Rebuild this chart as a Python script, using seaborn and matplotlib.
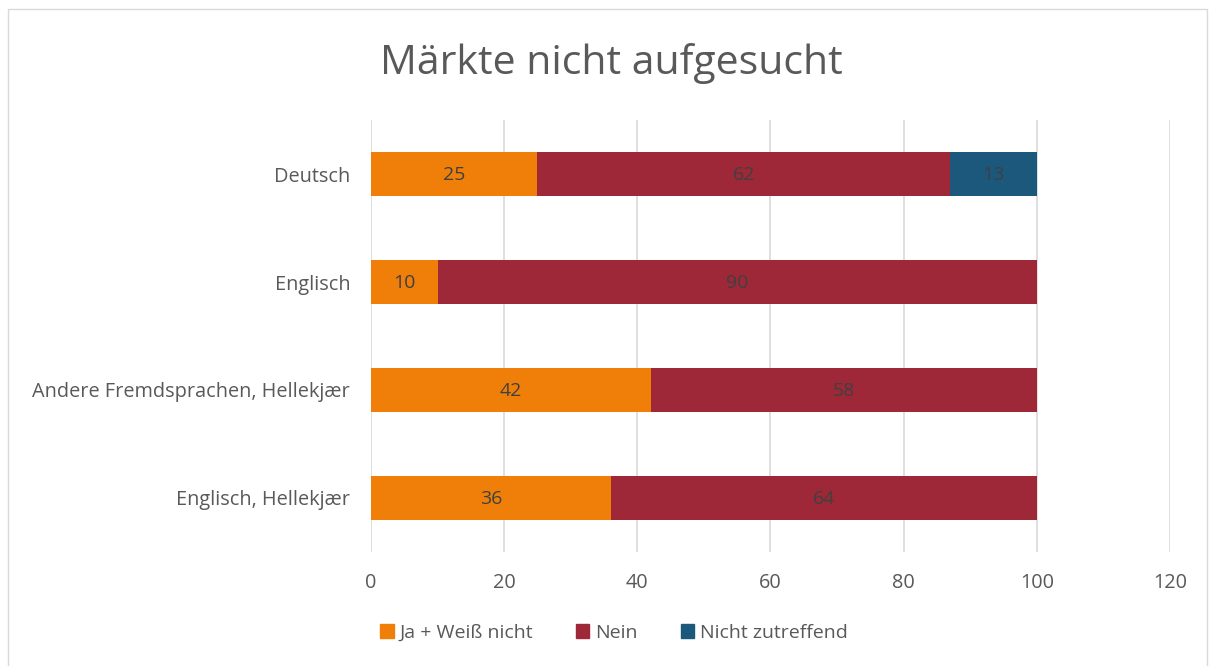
import seaborn as sns
import matplotlib.pyplot as plt
import matplotlib.patches as mpatches
import pandas as pd

# Daten
kategorien = ['Deutsch', 'Englisch', 'Andere Fremdsprachen, Hellekjær', 'Englisch, Hellekjær']
ja_weiss_nicht = [25, 10, 42, 36]
nein = [62, 90, 58, 64]
nicht_zutreffend = [13, 0, 0, 0]
serien = ['Ja + Weiß nicht', 'Nein', 'Nicht zutreffend']
farben = ['#F07F09', '#9E2837', '#1B587C']

sns.set_style('white')
plt.rcParams['font.family'] = ['Open Sans', 'DejaVu Sans']
textfarbe = '#595959'

df = pd.DataFrame({'kategorie': kategorien, 'ja': ja_weiss_nicht,
                   'nein': nein, 'nz': nicht_zutreffend})
df['c1'] = df['ja']
df['c2'] = df['ja'] + df['nein']
df['c3'] = df['c2'] + df['nz']

fig = plt.figure(figsize=(12.11, 6.66), dpi=100)
ax = fig.add_axes([0.3064, 0.1712, 0.6597, 0.6486])

# gestapelt: von hinten nach vorne
for col, farbe in zip(['c3', 'c2', 'c1'], farben[::-1]):
    sns.barplot(data=df, y='kategorie', x=col, color=farbe, orient='h',
                width=0.4, saturation=1, ax=ax, edgecolor='none')

# Beschriftungen
for i, row in df.iterrows():
    start = 0
    for col in ['ja', 'nein', 'nz']:
        v = row[col]
        if v > 0:
            ax.text(start + v / 2, i + 0.01, str(v), ha='center', va='center',
                    fontsize=14, color='#404040')
        start += v

ax.set_xlim(0, 120)
ax.set_ylim(3.5, -0.5)
ax.set_xticks(range(0, 121, 20))
ax.grid(axis='x', color='#D9D9D9', linewidth=1.2)
ax.set_axisbelow(True)
for s in ax.spines.values():
    s.set_visible(False)
ax.set_xlabel('')
ax.set_ylabel('')
ax.tick_params(axis='both', length=0, labelsize=14.3, labelcolor=textfarbe)
ax.tick_params(axis='x', pad=15)
ax.tick_params(axis='y', pad=15)

fig.text(0.505, 0.905, 'Märkte nicht aufgesucht', ha='center', va='center',
         fontsize=29.5, color=textfarbe)

handles = [mpatches.Patch(color=f, label=s) for f, s in zip(farben, serien)]
fig.legend(handles=handles, loc='center', bbox_to_anchor=(0.507, 0.05), ncol=3,
           frameon=False, fontsize=14, labelcolor=textfarbe,
           handlelength=0.7, handleheight=0.7, handletextpad=0.3, columnspacing=2.2)

# Rahmen
fig.patches.append(mpatches.Rectangle((0.007, -0.01), 0.99, 0.997, transform=fig.transFigure,
                                      fill=False, edgecolor='#D9D9D9', linewidth=1))

fig.savefig('out.png', dpi=100)
